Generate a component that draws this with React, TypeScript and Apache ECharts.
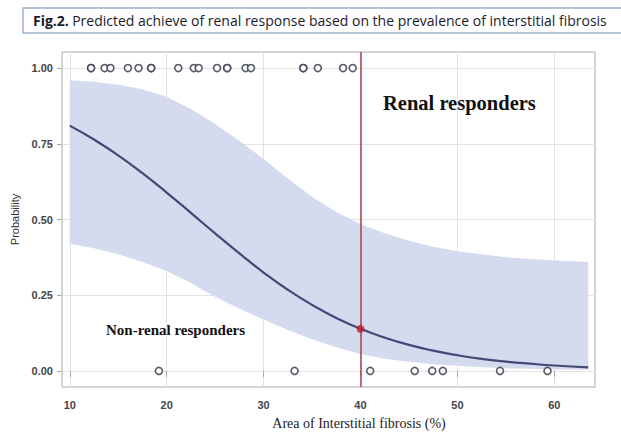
import React, { useEffect, useRef } from "react";
import * as echarts from "echarts";

// Tick values
const xTicks = [10, 20, 30, 40, 50, 60];
const yTicks = [0, 0.25, 0.5, 0.75, 1];

// Observed responders (Probability = 1) and non-responders (Probability = 0)
const respondersX = [12.2, 12.2, 13.6, 14.2, 16.0, 17.1, 18.4, 18.4, 21.2, 22.8, 23.3, 25.2, 26.25, 26.25, 28.15, 28.7, 34.1, 34.1, 35.6, 38.2, 39.2];
const nonRespondersX = [19.2, 33.2, 41.0, 45.6, 47.4, 48.5, 54.4, 59.3];

// Predicted curve and 95% confidence band
const curveX = [10, 12.5, 15, 17.5, 20, 22.5, 25, 27.5, 30, 32.5, 35, 37.5, 40, 42.5, 45, 47.5, 50, 52.5, 55, 57.5, 60, 63.5];
const curveY = [0.81, 0.764, 0.712, 0.653, 0.589, 0.522, 0.454, 0.388, 0.325, 0.268, 0.218, 0.175, 0.139, 0.11, 0.086, 0.067, 0.052, 0.04, 0.031, 0.024, 0.018, 0.012];
const bandUpper = [0.96, 0.955, 0.945, 0.93, 0.905, 0.865, 0.815, 0.76, 0.70, 0.635, 0.575, 0.525, 0.485, 0.455, 0.43, 0.41, 0.395, 0.385, 0.375, 0.37, 0.365, 0.36];
const bandLower = [0.42, 0.405, 0.385, 0.36, 0.33, 0.29, 0.245, 0.205, 0.17, 0.135, 0.105, 0.078, 0.056, 0.04, 0.03, 0.022, 0.017, 0.012, 0.009, 0.007, 0.005, 0.004];

// Cut-off
const cutoffX = 40;
const cutoffY = 0.139;

const gridColor = "#e3e3e3";

export default function App() {
  const ref = useRef<HTMLDivElement>(null);

  useEffect(() => {
    if (!ref.current) return;
    const chart = echarts.init(ref.current, null, { renderer: "svg" });

    const bandData = curveX.map((x, i) => [x, bandLower[i], bandUpper[i]]);
    const lineData = curveX.map((x, i) => [x, curveY[i]]);

    const gridLines = [
      ...xTicks.map((v) => ({ xAxis: v })),
      ...yTicks.map((v) => ({ yAxis: v })),
    ];

    chart.setOption({
      animation: false,
      backgroundColor: "#ffffff",
      grid: {
        left: 62,
        top: 52,
        width: 533,
        height: 335,
        show: true,
        borderColor: "#a9a9a9",
        borderWidth: 1,
        backgroundColor: "transparent",
      },
      xAxis: {
        type: "value",
        min: 9.2,
        max: 64.2,
        axisLine: { show: false },
        axisTick: { show: true, customValues: xTicks, length: 6, lineStyle: { color: "#a9a9a9" } },
        axisLabel: { customValues: xTicks, fontFamily: "Liberation Sans", fontSize: 11, color: "#444", fontWeight: "bold", margin: 12 },
        splitLine: { show: false },
      },
      yAxis: {
        type: "value",
        min: -0.053,
        max: 1.053,
        name: "Probability",
        nameLocation: "middle",
        nameGap: 36,
        nameRotate: 90,
        nameTextStyle: { fontFamily: "Liberation Sans", fontSize: 11, color: "#333" },
        axisLine: { show: false },
        axisTick: { show: true, customValues: yTicks, length: 5, lineStyle: { color: "#a9a9a9" } },
        axisLabel: {
          customValues: yTicks,
          formatter: (v: number) => v.toFixed(2),
          fontFamily: "Liberation Sans",
          fontSize: 11,
          color: "#444",
          fontWeight: "bold",
          margin: 9,
        },
        splitLine: { show: false },
      },
      series: [
        {
          type: "custom",
          data: bandData,
          silent: true,
          z: 1,
          renderItem: (params: any, api: any) => {
            if (params.dataIndex !== 0) return null;
            const upper = bandData.map((d) => api.coord([d[0], d[2]]));
            const lower = bandData.map((d) => api.coord([d[0], d[1]])).reverse();
            return {
              type: "polygon",
              shape: { points: upper.concat(lower) },
              style: { fill: "#d4dbee", stroke: "none" },
            };
          },
          markLine: {
            silent: true,
            symbol: "none",
            label: { show: false },
            lineStyle: { color: gridColor, width: 1, type: "solid" },
            data: gridLines,
            z: 0,
          },
        },
        {
          type: "line",
          data: lineData,
          smooth: true,
          symbol: "none",
          lineStyle: { color: "#404a76", width: 2.2 },
          z: 3,
          markLine: {
            silent: true,
            symbol: "none",
            label: { show: false },
            lineStyle: { color: "#a8414b", width: 1.5, type: "solid" },
            data: [{ xAxis: cutoffX }],
          },
        },
        {
          type: "scatter",
          data: respondersX.map((x) => [x, 1]),
          symbol: "circle",
          symbolSize: 7,
          itemStyle: { color: "#ffffff", borderColor: "#3b3f4f", borderWidth: 1.6, opacity: 0.85 },
          z: 4,
        },
        {
          type: "scatter",
          data: nonRespondersX.map((x) => [x, 0]),
          symbol: "circle",
          symbolSize: 7,
          itemStyle: { color: "#ffffff", borderColor: "#3b3f4f", borderWidth: 1.6, opacity: 0.85 },
          z: 4,
        },
        {
          type: "scatter",
          data: [[cutoffX, cutoffY]],
          symbol: "circle",
          symbolSize: 8,
          itemStyle: { color: "#c41a2e" },
          z: 5,
        },
      ],
      graphic: [
        {
          type: "rect",
          z: 100,
          shape: { x: 23, y: 8, width: 610, height: 25 },
          style: { fill: "#ffffff", stroke: "#9fb2cc", lineWidth: 1.5 },
        },
        {
          type: "text",
          z: 101,
          x: 33,
          y: 20.5,
          style: {
            text: "{b|Fig.2.} {n|Predicted achieve of renal response based on the prevalence of interstitial fibrosis}",
            verticalAlign: "middle",
            rich: {
              b: { fontFamily: "Open Sans", fontSize: 14, fontWeight: "bold", fill: "#1a1a2a" },
              n: { fontFamily: "Open Sans", fontSize: 14, fill: "#1a1a2a" },
            },
          },
        },
        {
          type: "text",
          z: 100,
          x: 383,
          y: 103,
          style: {
            text: "Renal responders",
            fontFamily: "Liberation Serif",
            fontWeight: "bold",
            fontSize: 20.5,
            fill: "#111",
            verticalAlign: "middle",
          },
        },
        {
          type: "text",
          z: 100,
          x: 106,
          y: 330,
          style: {
            text: "Non-renal responders",
            fontFamily: "Liberation Serif",
            fontWeight: "bold",
            fontSize: 15,
            fill: "#111",
            verticalAlign: "middle",
          },
        },
        {
          type: "text",
          z: 100,
          x: 359,
          y: 423,
          style: {
            text: "Area of Interstitial fibrosis (%)",
            fontFamily: "Liberation Serif",
            fontSize: 14,
            fill: "#222",
            align: "center",
            verticalAlign: "middle",
          },
        },
      ],
    });

    return () => chart.dispose();
  }, []);

  return (
    <div
      ref={ref}
      style={{ position: "fixed", left: 0, top: 0, width: 621, height: 434, background: "#fff" }}
    />
  );
}
